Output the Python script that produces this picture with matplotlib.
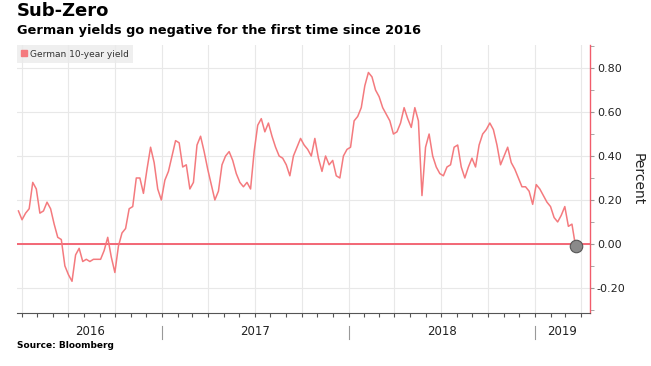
import numpy as np
import pandas as pd
import matplotlib
matplotlib.use("Agg")
import matplotlib.pyplot as plt
import matplotlib.dates as mdates
import matplotlib.transforms as mtransforms
from matplotlib.lines import Line2D

# weekly German 10-year yield (percent), late Mar 2016 -> 22 Mar 2019
yields = [
    0.15, 0.11, 0.14, 0.16, 0.28, 0.25, 0.14, 0.15, 0.19, 0.16,
    0.09, 0.03, 0.02, -0.10, -0.14, -0.17, -0.05, -0.02, -0.08, -0.07,
    -0.08, -0.07, -0.07, -0.07, -0.03, 0.03, -0.06, -0.13, -0.01, 0.05,
    0.07, 0.16, 0.17, 0.30, 0.30, 0.23, 0.34, 0.44, 0.37, 0.25,
    0.20, 0.29, 0.33, 0.40, 0.47, 0.46, 0.35, 0.36, 0.25, 0.28,
    0.45, 0.49, 0.42, 0.34, 0.27, 0.20, 0.24, 0.36, 0.40, 0.42,
    0.38, 0.32, 0.28, 0.26, 0.28, 0.25, 0.42, 0.54, 0.57, 0.51,
    0.55, 0.49, 0.44, 0.40, 0.39, 0.36, 0.31, 0.40, 0.44, 0.48,
    0.45, 0.43, 0.40, 0.48, 0.39, 0.33, 0.40, 0.36, 0.38, 0.31,
    0.30, 0.40, 0.43, 0.44, 0.56, 0.58, 0.62, 0.72, 0.78, 0.76,
    0.70, 0.67, 0.62, 0.59, 0.56, 0.50, 0.51, 0.55, 0.62, 0.57,
    0.53, 0.62, 0.56, 0.22, 0.44, 0.50, 0.40, 0.35, 0.32, 0.31,
    0.35, 0.36, 0.44, 0.45, 0.35, 0.30, 0.35, 0.39, 0.35, 0.45,
    0.50, 0.52, 0.55, 0.52, 0.45, 0.36, 0.40, 0.44, 0.37, 0.34,
    0.30, 0.26, 0.26, 0.24, 0.18, 0.27, 0.25, 0.22, 0.19, 0.17,
    0.12, 0.10, 0.13, 0.17, 0.08, 0.09, -0.01,
]
dates = pd.date_range("2016-03-25", periods=len(yields), freq="7D")

years = [2016, 2017, 2018, 2019]
yticks = [-0.2, 0.0, 0.2, 0.4, 0.6, 0.8]

x_start = pd.Timestamp("2016-03-22")
x_end = pd.Timestamp("2019-04-19")

line_red = "#f47a7e"
axis_red = "#f25c6b"

fig = plt.figure(figsize=(6.51, 3.66), dpi=100)
ax = fig.add_axes([0.026, 0.145, 0.880, 0.732])

# zero line, the series and the end marker
ax.axhline(0, color=axis_red, lw=1.3, zorder=2)
ax.plot(dates, yields, color=line_red, lw=1.1, zorder=3)
ax.plot(dates[-1], yields[-1], "o", ms=9, mfc="#8a8a8a", mec="#555555",
        mew=0.8, zorder=4)

ax.set_xlim(x_start, x_end)
ax.set_ylim(-0.314, 0.905)

# x axis: monthly ticks, quarterly grid
ax.xaxis.set_major_locator(mdates.MonthLocator(bymonth=[1, 4, 7, 10]))
ax.xaxis.set_minor_locator(mdates.MonthLocator())
ax.xaxis.set_major_formatter(plt.NullFormatter())
ax.tick_params(axis="x", which="both", length=3, color="#555555", width=0.8)
ax.grid(axis="x", which="major", color="#e8e8e8", lw=0.8)

# y axis on the right
ax.yaxis.tick_right()
ax.yaxis.set_label_position("right")
ax.set_yticks(yticks)
ax.set_yticks(np.arange(-0.3, 0.91, 0.1), minor=True)
ax.set_yticklabels([f"{v:.2f}" for v in yticks])
ax.tick_params(axis="y", which="both", length=3, color="#999999",
               labelsize=8, labelcolor="#222222", pad=2)
ax.grid(axis="y", which="major", color="#e8e8e8", lw=0.8)
ax.set_axisbelow(True)
ax.set_ylabel("Percent", rotation=270, fontsize=10, labelpad=14, color="#222222")

for side in ["top", "left"]:
    ax.spines[side].set_visible(False)
ax.spines["right"].set_color(axis_red)
ax.spines["right"].set_linewidth(1.0)
ax.spines["bottom"].set_color("#555555")
ax.spines["bottom"].set_linewidth(0.8)

# year labels centred in the visible part of each year, with separators
trans = mtransforms.blended_transform_factory(ax.transData, ax.transAxes)
for yr in years:
    lo = max(pd.Timestamp(f"{yr}-01-01"), x_start)
    hi = min(pd.Timestamp(f"{yr + 1}-01-01"), x_end)
    mid = lo + (hi - lo) / 2
    ax.text(mid, -0.071, str(yr), transform=trans, ha="center", va="center",
            fontsize=8.5, color="#222222")
    if yr > years[0]:
        sep = pd.Timestamp(f"{yr}-01-01")
        ax.plot([sep, sep], [-0.048, -0.097], transform=trans, color="#999999",
                lw=0.8, clip_on=False)

# legend box
handle = Line2D([], [], marker="s", ls="none", color=line_red, ms=5)
leg = ax.legend([handle], ["German 10-year yield"], loc="upper left",
                bbox_to_anchor=(0, 1), borderaxespad=0, fontsize=6.5,
                frameon=True, fancybox=False, handlelength=0.6,
                handletextpad=0.3, borderpad=0.5)
leg.get_frame().set_facecolor("#ebebeb")
leg.get_frame().set_edgecolor("none")
for t in leg.get_texts():
    t.set_color("#333333")

# titles and source
fig.text(0.026, 0.995, "Sub-Zero", fontsize=13, fontweight="bold", va="top")
fig.text(0.026, 0.935, "German yields go negative for the first time since 2016",
         fontsize=9.3, fontweight="bold", va="top")
fig.text(0.026, 0.057, "Source: Bloomberg", fontsize=6.5, fontweight="bold",
         va="center")

plt.savefig("out.png", dpi=100)
